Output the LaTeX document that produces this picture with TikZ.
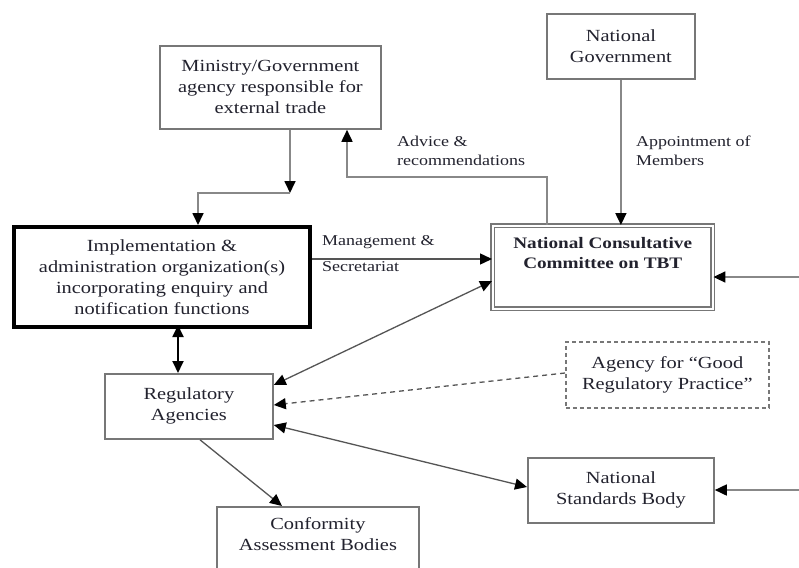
\documentclass[tikz,border=0pt]{standalone}
\usepackage{fontspec}
\setmainfont{Liberation Serif}[FakeStretch=1.2]
\usetikzlibrary{arrows.meta}
\definecolor{linegray}{HTML}{888888}
\definecolor{boxgray}{HTML}{777777}
\definecolor{txtc}{HTML}{22222E}
\definecolor{diag}{HTML}{555555}
\tikzset{
  box/.style={draw=boxgray, line width=1.8pt, rectangle, inner sep=0pt, align=center,
    text=txtc, font=\fontsize{17}{21}\selectfont, anchor=north west},
  lbl/.style={inner sep=0pt, align=left, text=txtc, font=\fontsize{15}{19}\selectfont, anchor=north west},
  tipend/.style={-{Triangle[length=12pt,width=11pt,color=black]}},
  tipboth/.style={{Triangle[length=12pt,width=11pt,color=black]}-{Triangle[length=12pt,width=11pt,color=black]}},
  conn/.style={draw=linegray, line width=1.7pt},
  dconn/.style={draw=diag, line width=1.3pt},
}
\begin{document}
\begin{tikzpicture}[x=1pt,y=-1pt]
\clip (0,0) rectangle (799,567);
\fill[white] (0,0) rectangle (799,567);

% boxes
\node[box, minimum width=221pt, minimum height=83pt] (ministry) at (159,45)
  {Ministry/Government\\agency responsible for\\external trade};
\node[box, minimum width=148pt, minimum height=65pt] (natgov) at (546,13)
  {National\\Government};
\node[box, draw=black, line width=4pt, minimum width=296pt, minimum height=100pt] (impl) at (12,225)
  {Implementation \&\\administration organization(s)\\incorporating enquiry and\\notification functions};
\node[box, line width=1.4pt, double=white, double distance=2.2pt, minimum width=220pt, minimum height=83pt] (ncc) at (492,225) {};
\node[lbl, align=center, anchor=north, font=\fontsize{16}{20}\selectfont\bfseries] (ncctext) at ([yshift=-12pt]ncc.north)
  {National Consultative\\Committee on TBT};
\node[box, minimum width=168pt, minimum height=65pt] (reg) at (104,373)
  {Regulatory\\Agencies};
\node[box, dashed, dash pattern=on 4pt off 3pt, line width=1.6pt, minimum width=203pt, minimum height=66pt] (grp) at (565,341)
  {Agency for ``Good\\Regulatory Practice''};
\node[box, minimum width=186pt, minimum height=65pt] (nsb) at (527,457)
  {National\\Standards Body};
\node[box, minimum width=202pt, minimum height=100pt] (conf) at (216,506)
  {Conformity\\Assessment Bodies\\[24pt]};

% labels
\node[lbl] (advice) at (397,136) {Advice \&\\recommendations};
\node[lbl] (appoint) at (636,136) {Appointment of\\Members};
\node[lbl] (mgmt) at (322,235) {Management \&\\[7pt]Secretariat};

% coordinates
\coordinate (m1) at (290,193);
\coordinate (m2) at (198,193);
\coordinate (a1) at (547,177);
\coordinate (a2) at (347,177);
\coordinate (rin1) at (799,277);
\coordinate (rin2) at (799,490);

% connectors
\draw[conn, tipend] (ministry.south -| m1) -- (m1);
\draw[conn, tipend] (m1) -- (m2) -- (m2 |- impl.north);
\draw[conn, tipend] (ncc.north -| a1) -- (a1) -- (a2) -- (ministry.south -| a2);
\draw[conn, tipend] (natgov.south) -- (natgov.south |- ncc.north);
\draw[conn, tipend] (rin1) -- (ncc.east |- rin1);
\draw[draw=diag, line width=1.4pt, tipend] ([yshift=-34pt]impl.north east) -- ([yshift=-34pt]ncc.north west);
\draw[draw=black, line width=1.8pt, tipboth] (178,325) -- (178,373);
\draw[dconn, tipboth] ([yshift=-56pt]ncc.north west) -- ([yshift=-12pt]reg.north east);
\draw[draw=diag, line width=1.3pt, dashed, dash pattern=on 5pt off 4pt, tipend] ([yshift=-32pt]grp.north west) -- ([yshift=-32pt]reg.north east);
\draw[dconn, tipboth] ([yshift=-52pt]reg.north east) -- ([yshift=-30pt]nsb.north west);
\draw[dconn, tipend] ([xshift=96pt]reg.south west) -- ([xshift=66pt]conf.north west);
\draw[conn, tipend] (rin2) -- (nsb.east |- rin2);
\end{tikzpicture}
\end{document}
